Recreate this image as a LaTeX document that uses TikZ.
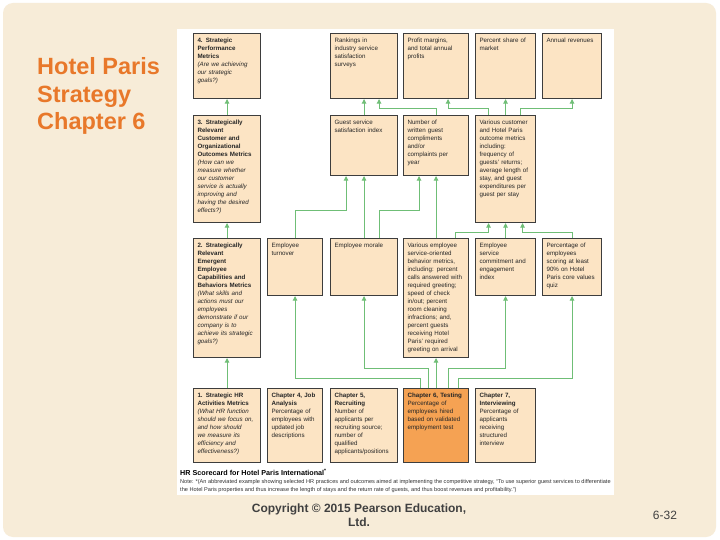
\documentclass[tikz,border=0pt]{standalone}
\usepackage{fontspec}
\setmainfont{Liberation Sans}
\usetikzlibrary{arrows.meta,shadows}
\definecolor{slidebg}{HTML}{F7ECD8}
\definecolor{boxfill}{HTML}{FCE4C4}
\definecolor{boxline}{HTML}{3D3D3D}
\definecolor{testfill}{HTML}{F5A253}
\definecolor{flowgreen}{HTML}{6FBE76}
\definecolor{titleorange}{HTML}{E8782A}
\definecolor{textgrey}{HTML}{404040}
\tikzset{
  every node/.style={font=\fontsize{6.2}{8}\selectfont, text=black!85},
  metric/.style={rectangle, draw=boxline, fill=boxfill, line width=1.1pt,
    anchor=north west, align=left, inner xsep=4pt, inner ysep=4pt,
    text height=5pt},
  focus/.style={metric, fill=testfill,
    drop shadow={shadow xshift=0.8pt, shadow yshift=-0.8pt, opacity=0.5}},
  flow/.style={-{Triangle[length=4.5pt,width=4.5pt]}, line width=0.9pt,
    draw=flowgreen},
  slidetitle/.style={anchor=north west, align=left, inner sep=0pt,
    font=\fontsize{23.5}{27.5}\selectfont\bfseries, text=titleorange},
  caphead/.style={anchor=north west, inner sep=0pt,
    font=\fontsize{7.2}{8}\selectfont\bfseries, text=black},
  capnote/.style={anchor=north west, align=left, inner sep=0pt,
    font=\fontsize{5.6}{8}\selectfont, text=black!80},
  footer/.style={align=center, inner sep=0pt,
    font=\fontsize{12}{14}\selectfont\bfseries, text=textgrey},
  pageno/.style={inner sep=0pt, font=\fontsize{12}{14}\selectfont,
    text=textgrey},
}
\begin{document}
\begin{tikzpicture}[x=1pt,y=-1pt]
\useasboundingbox (0,0) rectangle (720,540);

% ---- Slide and white panel -----------------------------------------------
\fill[white] (0,0) rectangle (720,540);
\fill[slidebg, rounded corners=10pt] (3,3) rectangle (716,537);
\fill[white] (177,29) rectangle (614,495);

\node[slidetitle] (title) at (37,57.5) {Hotel Paris\\ Strategy\\ Chapter 6};

% Columns (left edge, text width) and row tops.
\def\xA{193} \def\xB{267} \def\xC{330}
\def\xD{403} \def\xE{475} \def\xF{542}
\def\wA{59pt} \def\wB{47pt} \def\wC{59pt}
\def\wD{57pt} \def\wE{52pt} \def\wF{51pt}
\def\yA{33}  % strategic performance
\def\yB{115} % customer outcomes
\def\yC{238} % employee capabilities
\def\yD{388} % HR activities

% ---- 4. Strategic performance ----------------------------------------------
\node[metric, text width=\wA, text depth=52pt] (perf) at (\xA,\yA)
  {\textbf{4. Strategic\\ Performance\\ Metrics}\\
   \textit{(Are we achieving\\ our strategic\\ goals?)}};
\node[metric, text width=\wC, text depth=52pt] (rank) at (\xC,\yA)
  {Rankings in\\ industry service\\ satisfaction\\ surveys};
\node[metric, text width=\wD, text depth=52pt] (profit) at (\xD,\yA)
  {Profit margins,\\ and total annual\\ profits};
\node[metric, text width=\wE, text depth=52pt] (share) at (\xE,\yA)
  {Percent share of\\ market};
\node[metric, text width=\wF, text depth=52pt] (revenue) at (\xF,\yA)
  {Annual revenues};

% ---- 3. Customer and organizational outcomes -------------------------------
\node[metric, text width=\wA, text depth=94pt] (cust) at (\xA,\yB)
  {\textbf{3. Strategically\\ Relevant\\ Customer and\\ Organizational\\ Outcomes Metrics}\\
   \textit{(How can we\\ measure whether\\ our customer\\ service is actually\\ improving and\\ having the desired\\ effects?)}};
\node[metric, text width=\wC, text depth=47pt] (gsat) at (\xC,\yB)
  {Guest service\\ satisfaction index};
\node[metric, text width=\wD, text depth=47pt] (gcomp) at (\xD,\yB)
  {Number of\\ written guest\\ compliments\\ and/or\\ complaints per\\ year};
\node[metric, text width=\wE, text depth=94pt] (custout) at (\xE,\yB)
  {Various customer\\ and Hotel Paris\\ outcome metrics\\ including:\\ frequency of\\ guests' returns;\\ average length of\\ stay, and guest\\ expenditures per\\ guest per stay};

% ---- 2. Employee capabilities and behaviors --------------------------------
\node[metric, text width=\wA, text depth=106pt] (emp) at (\xA,\yC)
  {\textbf{2. Strategically\\ Relevant\\ Emergent\\ Employee\\ Capabilities and\\ Behaviors Metrics}\\
   \textit{(What skills and\\ actions must our\\ employees\\ demonstrate if our\\ company is to\\ achieve its strategic\\ goals?)}};
\node[metric, text width=\wB, text depth=44pt] (turnover) at (\xB,\yC)
  {Employee\\ turnover};
\node[metric, text width=\wC, text depth=44pt] (morale) at (\xC,\yC)
  {Employee morale};
\node[metric, text width=\wD, text depth=106pt] (empbeh) at (\xD,\yC)
  {Various employee\\ service-oriented\\ behavior metrics,\\ including: percent\\ calls answered with\\ required greeting;\\ speed of check\\ in/out; percent\\ room cleaning\\ infractions; and,\\ percent guests\\ receiving Hotel\\ Paris' required\\ greeting on arrival};
\node[metric, text width=\wE, text depth=44pt] (commit) at (\xE,\yC)
  {Employee\\ service\\ commitment and\\ engagement\\ index};
\node[metric, text width=\wF, text depth=44pt] (values) at (\xF,\yC)
  {Percentage of\\ employees\\ scoring at least\\ 90\% on Hotel\\ Paris core values\\ quiz};

% ---- 1. HR activities ------------------------------------------------------
\node[metric, text width=\wA, text depth=61pt] (hract) at (\xA,\yD)
  {\textbf{1. Strategic HR\\ Activities Metrics}\\
   \textit{(What HR function\\ should we focus on,\\ and how should\\ we measure its\\ efficiency and\\ effectiveness?)}};
\node[metric, text width=\wB, text depth=61pt] (jobanal) at (\xB,\yD)
  {\textbf{Chapter 4, Job\\ Analysis}\\ Percentage of\\ employees with\\ updated job\\ descriptions};
\node[metric, text width=\wC, text depth=61pt] (recruit) at (\xC,\yD)
  {\textbf{Chapter 5,\\ Recruiting}\\ Number of\\ applicants per\\ recruiting source;\\ number of\\ qualified\\ applicants/positions};
\node[focus, text width=\wD, text depth=61pt] (testing) at (\xD,\yD)
  {\textbf{Chapter 6, Testing}\\ Percentage of\\ employees hired\\ based on validated\\ employment test};
\node[metric, text width=\wE, text depth=61pt] (interview) at (\xE,\yD)
  {\textbf{Chapter 7,\\ Interviewing}\\ Percentage of\\ applicants\\ receiving\\ structured\\ interview};

% ---- Connectors --------------------------------------------------------------
\def\busa{108} % customer -> performance
\def\busb{210} % employee -> guest metrics
\def\busc{232} % employee -> customer outcomes
\def\busd{368} % testing -> morale, commitment
\def\buse{378} % testing -> turnover, values

% Left column chain.
\draw[flow] (hract) -- (emp);
\draw[flow] (emp) -- (cust);
\draw[flow] (cust) -- (perf);

% Customer outcomes into performance.
\draw[flow] (gsat) -- (rank);
\draw[flow] (gcomp.north) -- (gcomp.north |- 0,\busa) -| ([xshift=15pt]rank.south);
\draw[flow] ([xshift=-17pt]custout.north) -- ([xshift=-17pt]custout.north |- 0,\busa)
  -| ([xshift=12pt]profit.south);
\draw[flow] (custout) -- (share);
\draw[flow] ([xshift=15pt]custout.north) -- ([xshift=15pt]custout.north |- 0,\busa)
  -| (revenue.south);

% Employee metrics into customer outcomes.
\draw[flow] (turnover.north) -- (turnover.north |- 0,\busb) -| ([xshift=-18pt]gsat.south);
\draw[flow] (morale) -- (gsat);
\draw[flow] ([xshift=15pt]morale.north) -- ([xshift=15pt]morale.north |- 0,\busb)
  -| ([xshift=-17pt]gcomp.south);
\draw[flow] (empbeh) -- (gcomp);
\draw[flow] ([xshift=19pt]empbeh.north) -- ([xshift=19pt]empbeh.north |- 0,\busc)
  -| ([xshift=-17pt]custout.south);
\draw[flow] (commit) -- (custout);
\draw[flow] (values.north) -- (values.north |- 0,\busc) -| ([xshift=17pt]custout.south);

% Testing feeds the employee metrics.
\draw[flow] ([xshift=-16pt]testing.north) -- ([xshift=-16pt]testing.north |- 0,\buse)
  -| (turnover.south);
\draw[flow] ([xshift=-8pt]testing.north) -- ([xshift=-8pt]testing.north |- 0,\busd)
  -| (morale.south);
\draw[flow] (testing) -- (empbeh);
\draw[flow] ([xshift=12pt]testing.north) -- ([xshift=12pt]testing.north |- 0,\busd)
  -| (commit.south);
\draw[flow] ([xshift=22pt]testing.north) -- ([xshift=22pt]testing.north |- 0,\buse)
  -| (values.south);

% ---- Caption and footer ----------------------------------------------------
\node[caphead] (caption) at (180,468.5)
  {HR Scorecard for Hotel Paris International\textsuperscript{*}};
\node[capnote] (note) at (180,479)
  {Note: *(An abbreviated example showing selected HR practices and outcomes aimed at implementing the competitive strategy, “To use superior guest services to differentiate\\
   the Hotel Paris properties and thus increase the length of stays and the return rate of guests, and thus boost revenues and profitability.”)};
\node[footer, anchor=north] (copy) at (359,504)
  {Copyright © 2015 Pearson Education,\\ Ltd.};
\node[pageno] (page) at (665,515) {6-32};

\end{tikzpicture}
\end{document}
